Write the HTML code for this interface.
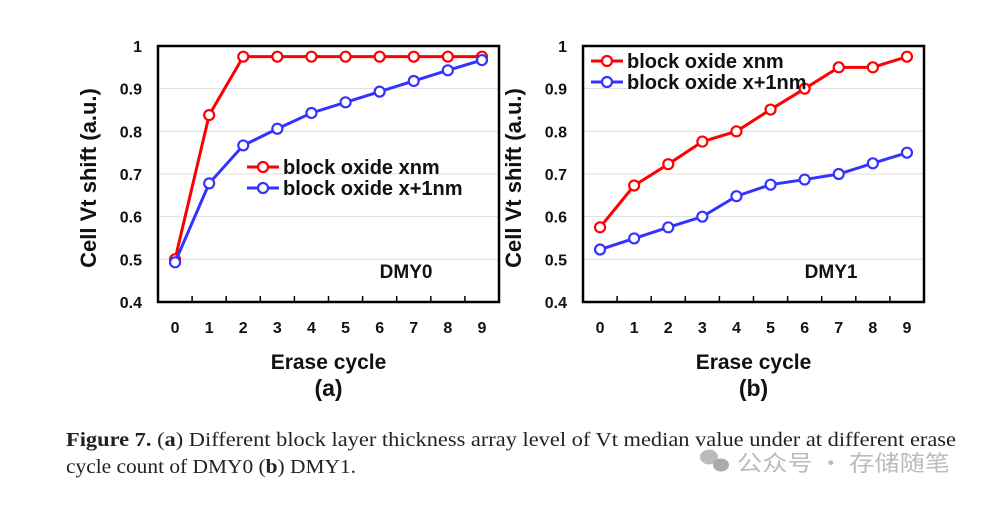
<!DOCTYPE html>
<html><head><meta charset="utf-8"><style>
body{margin:0;background:#fff;}
svg text{font-family:"Liberation Sans","DejaVu Sans",sans-serif;}
</style></head><body>
<svg id="fig" width="982" height="502" viewBox="0 0 982 502" xmlns="http://www.w3.org/2000/svg">
<g id="pa"></g>
<g id="pb"></g>
<text x="66" y="446" font-size="20" textLength="890" lengthAdjust="spacingAndGlyphs" style="font-family:'Liberation Serif',serif" fill="#222"><tspan font-weight="bold">Figure 7.</tspan> (<tspan font-weight="bold">a</tspan>) Different block layer thickness array level of Vt median value under at different erase</text>
<text x="66" y="473" font-size="20" textLength="290" lengthAdjust="spacingAndGlyphs" style="font-family:'Liberation Serif',serif" fill="#222">cycle count of DMY0 (<tspan font-weight="bold">b</tspan>) DMY1.</text>
<g fill="#bbb">
<ellipse cx="709" cy="457" rx="9" ry="7.5"/><ellipse cx="721" cy="465" rx="8" ry="6.5" fill="#aaa"/>
<text x="737" y="471" font-size="22" textLength="213" lengthAdjust="spacingAndGlyphs" style="font-family:'Noto Sans CJK SC',sans-serif">公众号 · 存储随笔</text>
</g>
</svg>
<script>
const categories=[0,1,2,3,4,5,6,7,8,9];
const yTicks=[0.4,0.5,0.6,0.7,0.8,0.9,1];
const yTickLabels=["0.4","0.5","0.6","0.7","0.8","0.9","1"];
const aRed=[0.5,0.838,0.975,0.975,0.975,0.975,0.975,0.975,0.975,0.975];
const aBlue=[0.493,0.678,0.767,0.806,0.843,0.868,0.893,0.918,0.943,0.967];
const bRed=[0.575,0.673,0.723,0.776,0.8,0.851,0.9,0.95,0.95,0.975];
const bBlue=[0.523,0.549,0.575,0.6,0.648,0.675,0.687,0.7,0.725,0.75];
const seriesNames=["block oxide xnm","block oxide x+1nm"];
const NS="http://www.w3.org/2000/svg";
function mk(parent,tag,attrs,txt){const e=document.createElementNS(NS,tag);for(const k in attrs)e.setAttribute(k,attrs[k]);if(txt!==undefined)e.textContent=txt;parent.appendChild(e);return e;}
function draw(gid,x0,x1,red,blue,tag,sub,legX,legY){
  const g=document.getElementById(gid);
  const yT=46,yB=302;
  const ys=v=>yB-(v-0.4)/0.6*(yB-yT);
  const w=(x1-x0)/categories.length;
  const xs=i=>x0+w*(i+0.5);
  yTicks.forEach((t,i)=>{
    if(t>0.4&&t<1){const l=mk(g,'line',{x1:x0,x2:x1,y1:ys(t),y2:ys(t),stroke:'#ddd','stroke-width':1});
    
    }
    const tx=mk(g,'text',{x:x0-16,y:ys(t)+6,'text-anchor':'end','font-size':16,'font-weight':'bold',fill:'#111'},yTickLabels[i]);
    
    
  });
  categories.forEach((c,i)=>{
    if(i>0){const tk=mk(g,'line',{x1:x0+w*i,x2:x0+w*i,y1:yB,y2:yB-6,stroke:'#000','stroke-width':1.5});
    
    }
    const tx=mk(g,'text',{x:xs(i),y:333,'text-anchor':'middle','font-size':16,'font-weight':'bold',fill:'#111'},String(c));
    
    
  });
  const box=mk(g,'rect',{x:x0,y:yT,width:x1-x0,height:yB-yT,fill:'none',stroke:'#000','stroke-width':2.5});
  
  
  [[red,'#f00','series-red'],[blue,'#33f','series-blue']].forEach(([d,col,nm])=>{
    const pl=mk(g,'polyline',{points:d.map((v,i)=>xs(i)+','+ys(v)).join(' '),fill:'none',stroke:col,'stroke-width':3});
    
    
    d.forEach((v,i)=>{const c=mk(g,'circle',{cx:xs(i),cy:ys(v),r:5,fill:'#fff',stroke:col,'stroke-width':2.2});
      
      });
  });
  [['#f00',0],['#33f',1]].forEach(([col,k])=>{
    const y=legY+k*21;
    const l=mk(g,'line',{x1:legX,x2:legX+32,y1:y,y2:y,stroke:col,'stroke-width':3});
    
    
    const c=mk(g,'circle',{cx:legX+16,cy:y,r:5,fill:'#fff',stroke:col,'stroke-width':2.2});
    
    
    const t=mk(g,'text',{x:legX+36,y:y+7,'font-size':20,'font-weight':'bold',fill:'#111'},seriesNames[k]);
    
    
  });
  const tg=mk(g,'text',{x:x0+w*6.5,y:278,'font-size':19,'font-weight':'bold',fill:'#111'},tag);
  
  
  const yl=mk(g,'text',{transform:`translate(${x0-62},${(yT+yB)/2+4}) rotate(-90)`,'text-anchor':'middle','font-size':22,'font-weight':'bold',fill:'#111'},'Cell Vt shift (a.u.)');
  
  
  const xl=mk(g,'text',{x:(x0+x1)/2,y:369,'text-anchor':'middle','font-size':21,'font-weight':'bold',fill:'#111'},'Erase cycle');
  
  
  const sl=mk(g,'text',{x:(x0+x1)/2,y:396,'text-anchor':'middle','font-size':23,'font-weight':'bold',fill:'#111'},sub);
  
  
}
draw('pa',158,499,aRed,aBlue,'DMY0','(a)',247,167);
draw('pb',583,924,bRed,bBlue,'DMY1','(b)',591,61);
</script>
</body></html>
